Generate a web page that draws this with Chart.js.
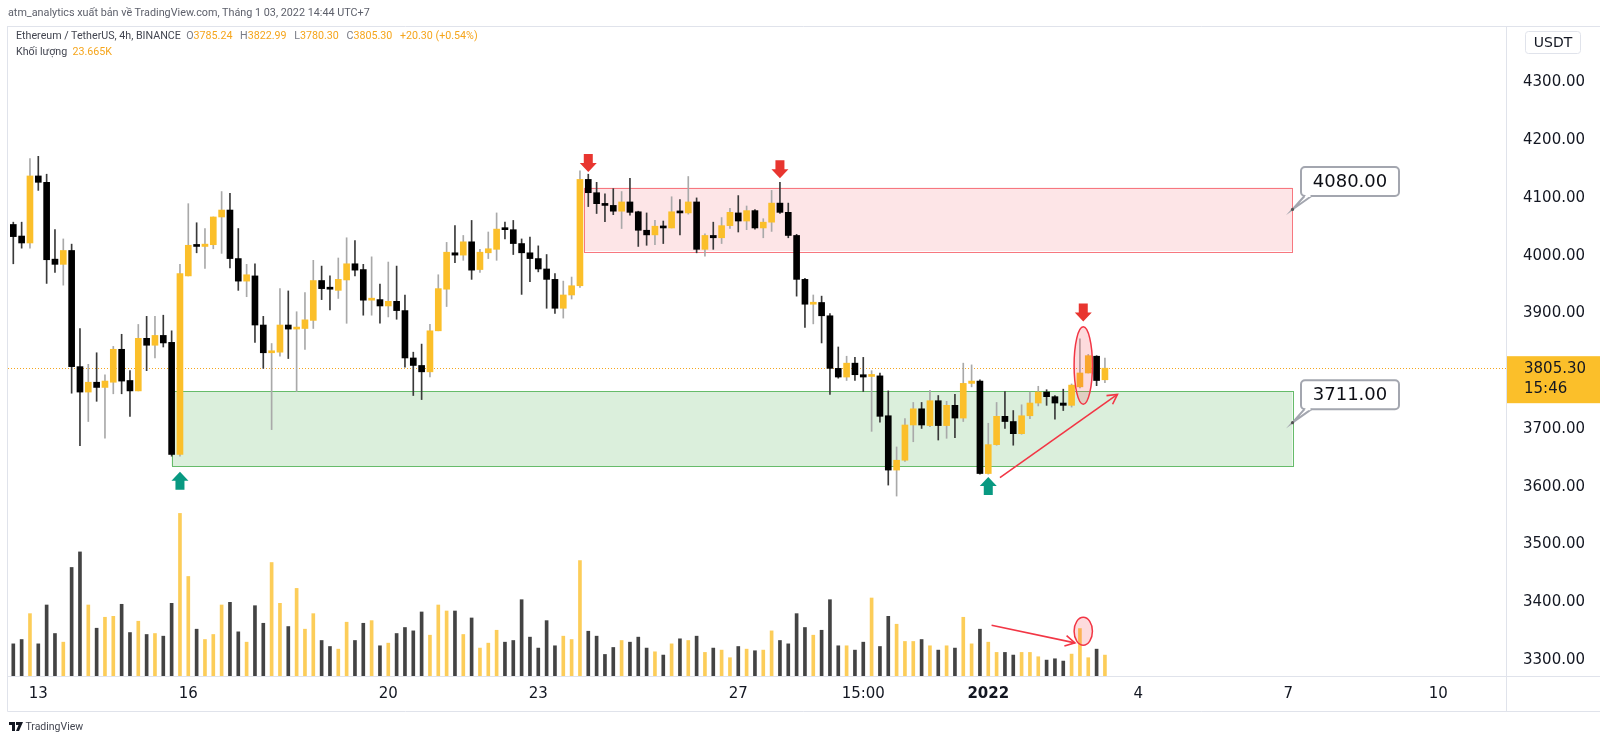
<!DOCTYPE html>
<html>
<head>
<meta charset="utf-8">
<script src="https://cdn.jsdelivr.net/npm/chart.js@4.4.1/dist/chart.umd.min.js"></script>
<style>
  html, body { margin: 0; padding: 0; background: #fff; overflow: hidden; }
  #wrap { position: relative; width: 1600px; height: 744px; }
  #c { position: absolute; left: 0; top: 0; }
  .t { position: absolute; white-space: nowrap; font-family: Roboto, "Liberation Sans", sans-serif; }
  .k { color: #787b86; }
  .v { color: #f5a51c; margin-right: 5px; }
</style>
</head>
<body>
<div id="wrap">
  <canvas id="c" width="1600" height="744"></canvas>
  <div class="t" style="left:8px;top:6px;font-size:10.8px;color:#5d606b">atm_analytics xuất bản về TradingView.com, Tháng 1 03, 2022 14:44 UTC+7</div>
  <div class="t" style="left:16px;top:29px;font-size:10.7px;color:#434651">Ethereum / TetherUS, 4h, BINANCE&nbsp;&nbsp;<span class="k">O</span><span class="v">3785.24</span> <span class="k">H</span><span class="v">3822.99</span> <span class="k">L</span><span class="v">3780.30</span> <span class="k">C</span><span class="v">3805.30</span> <span class="v">+20.30 (+0.54%)</span></div>
  <div class="t" style="left:16px;top:45px;font-size:10.7px;color:#434651">Khối lượng&nbsp;&nbsp;<span class="v">23.665K</span></div>
  <div class="t" style="left:9px;top:720px;font-size:10.5px;color:#434651">
    <svg width="14" height="9" viewBox="0 0 14 9" style="vertical-align:-1px"><path d="M0 0H6V9H3V3H0Z M7 0H14L10 9H7L9.5 3H7Z" fill="#131722"/></svg>
    TradingView</div>
</div>
<script>
// ETH/USDT 4h candles, bar 0 = Dec 12 15:00, bar 131 = Jan 3 11:00
const opens = [4054,4034,4022,4138,4127,3994,3985,4009,3808,3764,3781,3772,3781,3838,3784,3766,3857,3845,3862,3850,
  3656,3965,4018,4016,4019,4067,4079,3995,3956,3965,3880,3832,3833,3880,3873,3874,3888,3957,3944,3940,
  3958,3986,3976,3923,3924,3913,3921,3905,3823,3810,3799,3870,3942,4005,4001,4024,3976,4005,4011,4046,
  4045,4021,4005,3995,3977,3959,3909,3932,3948,4132,4109,4090,4087,4077,4093,4076,4044,4036,4051,4048,
  4076,4074,4093,4011,4035,4031,4052,4074,4060,4078,4048,4058,4091,4075,4035,3959,3916,3919,3896,3805,
  3790,3814,3794,3791,3792,3723,3629,3646,3707,3735,3706,3749,3706,3741,3719,3779,3783,3623,3673,3722,
  3713,3692,3723,3745,3764,3756,3745,3741,3773,3797,3826,3785.24];
const highs = [4058,4058,4168,4172,4141,4045,4029,4020,3874,3812,3832,3794,3843,3864,3801,3881,3895,3895,3897,3870,
  3985,4090,4057,4047,4067,4111,4108,4047,3985,3986,3895,3848,3943,3939,3903,3936,3992,3982,3965,3996,
  4031,4026,3985,3998,3951,3989,3982,3932,3833,3847,3881,3967,4023,4052,4035,4061,4011,4041,4074,4058,
  4061,4029,4032,4017,4002,3969,3956,3963,4147,4141,4127,4107,4116,4111,4134,4077,4074,4061,4060,4102,
  4097,4137,4100,4038,4058,4066,4082,4104,4086,4080,4064,4113,4127,4091,4037,3961,3932,3930,3900,3842,
  3826,3824,3824,3801,3797,3766,3669,3718,3746,3746,3767,3758,3748,3760,3814,3811,3785,3710,3746,3765,
  3732,3742,3764,3774,3768,3758,3769,3778,3856,3829,3827,3822.99];
const lows = [3986,4013,4013,4113,3952,3971,3949,3762,3671,3713,3748,3684,3761,3761,3722,3766,3801,3823,3842,3653,
  3653,3965,4005,3978,4012,4004,3979,3940,3929,3850,3805,3699,3826,3822,3765,3838,3874,3924,3906,3926,
  3883,3965,3897,3897,3883,3894,3890,3807,3758,3751,3790,3870,3912,3988,3992,3959,3971,3995,3992,4029,
  4002,3933,3955,3972,3909,3900,3892,3925,3945,4085,4073,4059,4071,4047,4070,4016,4018,4019,4021,4048,
  4036,4072,4005,3999,4011,4021,4047,4041,4045,4046,4031,4042,4073,4031,3930,3876,3882,3849,3760,3788,
  3784,3784,3765,3696,3712,3603,3584,3644,3678,3701,3704,3681,3684,3685,3713,3773,3622,3622,3672,3701,
  3672,3691,3718,3740,3741,3717,3732,3738,3771,3797,3775,3780.30];
const closes = [4033,4022,4138,4127,3993,3985,4009,3808,3764,3781,3772,3783,3838,3783,3766,3857,3845,3862,3849,3656,
  3969,4018,4016,4020,4067,4079,3995,3956,3967,3880,3832,3833,3880,3873,3875,3889,3957,3943,3942,3959,
  3986,3975,3923,3925,3913,3921,3905,3823,3810,3799,3870,3943,4006,4001,4024,3975,4006,4012,4046,4045,
  4021,4005,3995,3977,3959,3909,3932,3948,4132,4109,4090,4087,4077,4093,4075,4044,4036,4051,4048,4076,
  4074,4093,4011,4035,4031,4052,4075,4060,4078,4048,4058,4091,4075,4035,3959,3916,3917,3896,3805,3790,
  3814,3794,3790,3792,3722,3629,3646,3707,3735,3707,3749,3706,3741,3719,3779,3783,3623,3673,3722,3713,
  3692,3723,3745,3764,3756,3745,3741,3776,3797,3827,3784,3805.30];
// volume in thousands of ETH
const volumes = [36.4,41.3,70.6,36.4,80.4,48.1,38.3,122.9,140.5,80.4,54.1,66.5,67.6,81.2,49.2,62.0,47.0,48.1,45.1,82.3,
  184.1,112.7,53.0,41.3,47.0,80.4,83.4,50.0,38.3,79.6,59.7,128.5,82.3,56.0,99.2,53.0,70.6,40.2,33.4,30.4,
  60.9,40.2,59.7,62.7,34.2,37.2,48.1,54.9,51.1,72.5,46.2,80.4,73.6,73.6,47.0,65.7,31.6,37.2,51.8,38.3,
  40.2,86.4,44.0,31.6,62.7,34.2,45.1,41.3,130.7,50.7,45.1,24.4,32.3,40.2,38.3,44.0,31.6,27.4,23.7,36.4,
  42.1,40.2,45.1,26.7,31.6,29.3,20.7,33.4,30.4,28.6,29.3,51.1,40.2,36.4,70.6,54.9,46.2,51.8,86.4,34.2,
  34.2,29.3,38.3,88.3,33.4,67.6,58.6,39.1,39.1,41.3,34.2,29.3,34.2,31.6,66.5,36.4,53.0,38.3,26.7,26.7,
  23.7,26.7,26.7,21.8,18.0,19.5,16.9,24.8,53.7,20.7,30.4,23.665];

const tickIdx = [3, 21, 45, 63, 87, 102, 117, 135, 153, 171];
const tickText = ['13', '16', '20', '23', '27', '15:00', '2022', '4', '7', '10'];
const priceTicks = [3300, 3400, 3500, 3600, 3700, 3900, 4000, 4100, 4200, 4300];
const lastPrice = 3805.30;
const countdown = '15:46';

// zones: [from bar, to bar], [low, high], callout level
const zoneFrom = [68.5, 19];
const zoneTo = [153.5, 153.5];
const zoneLow = [4008, 3636];
const zoneHigh = [4118, 3765];
const zoneLevel = [4080, 3711];
const zoneFill = ['rgba(242,54,69,0.13)', 'rgba(76,175,80,0.2)'];
const zoneLine = ['#f7777f', '#66bb6a'];

// block arrows
const arrowBar = [69, 92, 128.4, 20, 117];
const arrowPrice = [4145, 4134, 3886, 3626, 3617];
const arrowDir = ['down', 'down', 'down', 'up', 'up'];

// drawn trend arrows (price pane + volume pane)
const trendPrice = [[118.4, 3616], [132.5, 3760]];
const trendVol = [[117.4, 57.5], [127.4, 37.5]];
// highlight ellipses: [bar, value, half-width bars, half-height value]
const ellPrice = [128.4, 3810, 1.1, 67];
const ellVol = [128.4, 50.7, 1.1, 15.8];

const UP = '#fbbf2a', DOWN = '#000000';
const upWick = '#a9a9a9', downWick = '#3a3a3a';
const FONT = '"DejaVu Sans", sans-serif';

const isUp = (i) => closes[i] >= opens[i];

function blockArrow(ctx, x, y, dir, color) {
  const s = dir === 'down' ? -1 : 1;
  ctx.beginPath();
  ctx.moveTo(x, y);
  ctx.lineTo(x - 8.5, y + s * 9);
  ctx.lineTo(x - 4.5, y + s * 9);
  ctx.lineTo(x - 4.5, y + s * 18);
  ctx.lineTo(x + 4.5, y + s * 18);
  ctx.lineTo(x + 4.5, y + s * 9);
  ctx.lineTo(x + 8.5, y + s * 9);
  ctx.closePath();
  ctx.fillStyle = color;
  ctx.fill();
}

function lineArrow(ctx, x1, y1, x2, y2) {
  ctx.strokeStyle = '#f23645';
  ctx.lineWidth = 1.6;
  ctx.beginPath();
  ctx.moveTo(x1, y1);
  ctx.lineTo(x2, y2);
  ctx.stroke();
  const a = Math.atan2(y2 - y1, x2 - x1);
  ctx.beginPath();
  ctx.moveTo(x2 - 11 * Math.cos(a - 0.5), y2 - 11 * Math.sin(a - 0.5));
  ctx.lineTo(x2, y2);
  ctx.lineTo(x2 - 11 * Math.cos(a + 0.5), y2 - 11 * Math.sin(a + 0.5));
  ctx.stroke();
}

function ellipse(ctx, cx, cy, rx, ry) {
  ctx.beginPath();
  ctx.ellipse(cx, cy, rx, ry, 0, 0, Math.PI * 2);
  ctx.fillStyle = 'rgba(242,54,69,0.18)';
  ctx.fill();
  ctx.strokeStyle = '#f23645';
  ctx.lineWidth = 1.5;
  ctx.stroke();
}

function callout(ctx, ax, ay, text) {
  const bx = ax + 8.5, by = ay - 42.5, bw = 98, bh = 29;
  ctx.fillStyle = '#fff';
  ctx.strokeStyle = '#a3a6af';
  ctx.lineWidth = 2;
  ctx.beginPath();
  ctx.roundRect(bx, by, bw, bh, 4);
  ctx.fill();
  ctx.stroke();
  ctx.beginPath();
  ctx.moveTo(ax + 12, by + bh);
  ctx.lineTo(ax, ay);
  ctx.lineTo(ax + 19, by + bh);
  ctx.closePath();
  ctx.fill();
  ctx.beginPath();
  ctx.moveTo(ax + 12, by + bh);
  ctx.lineTo(ax, ay);
  ctx.lineTo(ax + 19, by + bh);
  ctx.stroke();
  ctx.fillStyle = '#fff';
  ctx.fillRect(ax + 13, by + bh - 2, 5, 3);
  ctx.fillStyle = '#555';
  ctx.beginPath();
  ctx.arc(ax, ay, 1.6, 0, Math.PI * 2);
  ctx.fill();
  ctx.fillStyle = '#0c0e15';
  ctx.font = '18px ' + FONT;
  ctx.textAlign = 'center';
  ctx.textBaseline = 'middle';
  ctx.fillText(text, bx + bw / 2, by + bh / 2 + 1);
}

const drawings = {
  id: 'drawings',
  beforeDatasetsDraw(chart) {
    const { ctx, chartArea: a } = chart;
    const x = chart.scales.x, y = chart.scales.y;
    ctx.save();
    for (let k = 0; k < zoneFrom.length; k++) {
      const x1 = x.getPixelForValue(zoneFrom[k]), x2 = x.getPixelForValue(zoneTo[k]);
      const y1 = y.getPixelForValue(zoneHigh[k]), y2 = y.getPixelForValue(zoneLow[k]);
      ctx.fillStyle = zoneFill[k];
      ctx.fillRect(x1, y1, x2 - x1, y2 - y1);
      ctx.strokeStyle = zoneLine[k];
      ctx.lineWidth = 1;
      ctx.strokeRect(Math.round(x1) + 0.5, Math.round(y1) + 0.5, Math.round(x2 - x1), Math.round(y2 - y1));
    }
    // last price dotted line
    const py = Math.round(y.getPixelForValue(lastPrice)) + 0.5;
    ctx.strokeStyle = '#f5a51c';
    ctx.setLineDash([1, 2]);
    ctx.beginPath();
    ctx.moveTo(a.left, py);
    ctx.lineTo(a.right, py);
    ctx.stroke();
    ctx.restore();
  },
  afterDatasetsDraw(chart) {
    const { ctx } = chart;
    const x = chart.scales.x, y = chart.scales.y, yv = chart.scales.yv;
    const pxPerBar = x.getPixelForValue(1) - x.getPixelForValue(0);
    ctx.save();
    ellipse(ctx, x.getPixelForValue(ellPrice[0]), y.getPixelForValue(ellPrice[1]),
      ellPrice[2] * pxPerBar, y.getPixelForValue(ellPrice[1] - ellPrice[3]) - y.getPixelForValue(ellPrice[1]));
    ellipse(ctx, x.getPixelForValue(ellVol[0]), yv.getPixelForValue(ellVol[1]),
      ellVol[2] * pxPerBar, yv.getPixelForValue(ellVol[1] - ellVol[3]) - yv.getPixelForValue(ellVol[1]));
    lineArrow(ctx, x.getPixelForValue(trendPrice[0][0]), y.getPixelForValue(trendPrice[0][1]),
      x.getPixelForValue(trendPrice[1][0]), y.getPixelForValue(trendPrice[1][1]));
    lineArrow(ctx, x.getPixelForValue(trendVol[0][0]), yv.getPixelForValue(trendVol[0][1]),
      x.getPixelForValue(trendVol[1][0]), yv.getPixelForValue(trendVol[1][1]));
    for (let k = 0; k < arrowBar.length; k++) {
      blockArrow(ctx, x.getPixelForValue(arrowBar[k]), y.getPixelForValue(arrowPrice[k]), arrowDir[k],
        arrowDir[k] === 'down' ? '#e8352f' : '#089981');
    }
    for (let k = 0; k < zoneFrom.length; k++) {
      callout(ctx, Math.round(x.getPixelForValue(zoneTo[k])) + 0.5, y.getPixelForValue(zoneLevel[k]),
        zoneLevel[k].toFixed(2));
    }
    ctx.restore();
  },
  afterDraw(chart) {
    const { ctx, chartArea: a } = chart;
    const y = chart.scales.y;
    ctx.save();
    ctx.strokeStyle = '#e0e3eb';
    ctx.lineWidth = 1;
    ctx.beginPath();
    ctx.moveTo(a.left - 0.5, a.top + 0.5); ctx.lineTo(1600, a.top + 0.5);
    ctx.moveTo(a.left - 0.5, a.top); ctx.lineTo(a.left - 0.5, 711.5);
    ctx.lineTo(1600, 711.5);
    ctx.moveTo(a.left, a.bottom + 0.5); ctx.lineTo(1600, a.bottom + 0.5);
    ctx.moveTo(a.right + 0.5, a.top); ctx.lineTo(a.right + 0.5, 711.5);
    ctx.stroke();
    // currency box
    ctx.beginPath();
    ctx.roundRect(1525.5, 31.5, 55, 22, 3);
    ctx.stroke();
    ctx.fillStyle = '#131722';
    ctx.font = '14px ' + FONT;
    ctx.textAlign = 'center';
    ctx.textBaseline = 'middle';
    ctx.fillText('USDT', 1553, 43);
    // last price label
    const py = y.getPixelForValue(lastPrice);
    ctx.fillStyle = '#fbbf2a';
    ctx.fillRect(a.right + 1, py - 12, 1600 - a.right, 47);
    ctx.fillStyle = '#131722';
    ctx.font = '15px ' + FONT;
    ctx.textAlign = 'left';
    ctx.fillText(lastPrice.toFixed(2), 1524, py + 1);
    ctx.fillText(countdown, 1524, py + 21);
    ctx.restore();
  }
};

const wickData = opens.map((o, i) => ({ x: i, y: [lows[i], highs[i]] }));
const bodyData = opens.map((o, i) => ({ x: i, y: [o, closes[i]] }));
const volData = volumes.map((v, i) => ({ x: i, y: v }));

new Chart(document.getElementById('c'), {
  type: 'bar',
  data: {
    datasets: [
      {
        label: 'Volume', data: volData, yAxisID: 'yv', order: 3, grouped: false,
        barThickness: 3,
        backgroundColor: (c) => isUp(c.dataIndex) ? 'rgba(251,191,42,0.78)' : 'rgba(20,20,20,0.8)'
      },
      {
        label: 'Wick', data: wickData, yAxisID: 'y', order: 2, grouped: false,
        barThickness: 1,
        backgroundColor: (c) => isUp(c.dataIndex) ? upWick : downWick
      },
      {
        label: 'Body', data: bodyData, yAxisID: 'y', order: 1, grouped: false,
        barThickness: 6, minBarLength: 2,
        backgroundColor: (c) => isUp(c.dataIndex) ? UP : DOWN
      }
    ]
  },
  options: {
    responsive: false,
    animation: false,
    events: [],
    layout: { padding: { left: 8, top: 23, right: 0, bottom: 33 } },
    plugins: { legend: { display: false }, tooltip: { enabled: false } },
    scales: {
      x: {
        type: 'linear', offset: false,
        min: -0.636, max: 179.13,
        grid: { display: false, offset: false, drawTicks: false },
        border: { display: false },
        afterBuildTicks: (s) => { s.ticks = tickIdx.map((v) => ({ value: v })); },
        afterFit: (s) => { s.height = 35; },
        ticks: {
          autoSkip: false, maxRotation: 0, padding: 9, color: '#131722',
          font: (c) => ({ family: FONT, size: 15, weight: c.tick && c.tick.value === 117 ? 'bold' : 'normal' }),
          callback: (v) => tickText[tickIdx.indexOf(v)]
        }
      },
      y: {
        type: 'linear', position: 'right',
        min: 3272.6, max: 4397.5,
        grid: { display: false, drawTicks: false },
        border: { display: false },
        afterBuildTicks: (s) => { s.ticks = priceTicks.map((v) => ({ value: v })); },
        afterFit: (s) => { s.width = 94; },
        ticks: {
          padding: 17, color: '#131722',
          font: { family: FONT, size: 15 },
          callback: (v) => Number(v).toFixed(2)
        }
      },
      yv: {
        type: 'linear', display: false, min: 0, max: 736
      }
    }
  },
  plugins: [drawings]
});
</script>
</body>
</html>
